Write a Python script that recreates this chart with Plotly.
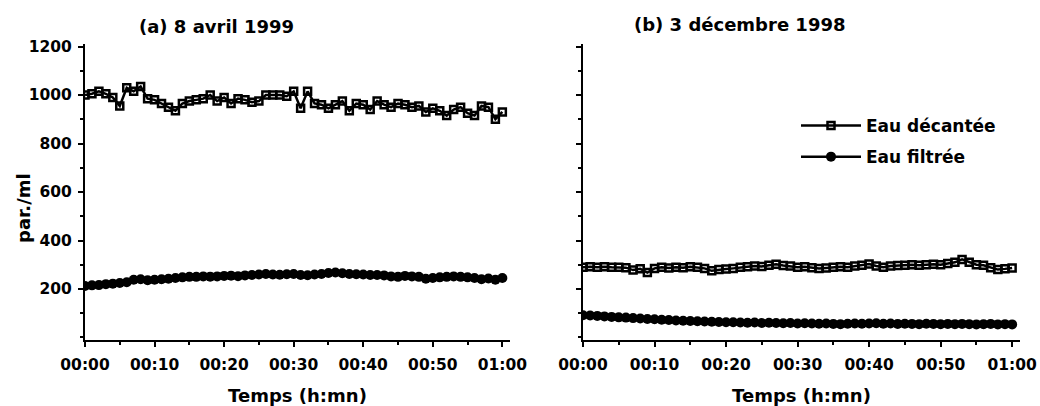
import plotly.graph_objects as go

# Time axis: one reading per minute over one hour
minutes = list(range(61))
time_tick_vals = [0, 10, 20, 30, 40, 50, 60]
time_tick_labels = ["00:00", "00:10", "00:20", "00:30", "00:40", "00:50", "01:00"]
count_tick_vals = [200, 400, 600, 800, 1000, 1200]

# (a) 8 avril 1999 - particle counts (par./ml)
avril_decantee = [
    1000, 1005, 1015, 1005, 990, 955, 1030, 1015, 1035, 985,
    980, 965, 950, 935, 965, 975, 980, 985, 1000, 975,
    990, 965, 985, 980, 970, 975, 1000, 1000, 1000, 995,
    1015, 945, 1015, 965, 960, 945, 960, 975, 935, 965,
    960, 940, 975, 960, 950, 965, 960, 950, 955, 930,
    945, 935, 915, 940, 950, 925, 915, 955, 950, 900,
    930,
]
avril_filtree = [
    212, 215, 216, 220, 222, 225, 228, 238, 240, 236,
    238, 240, 242, 245, 248, 250, 250, 252, 251, 252,
    254, 255, 253, 256, 258, 260, 262, 260, 259, 261,
    262, 258, 257, 260, 262, 266, 268, 265, 262, 261,
    260, 258, 258, 256, 252, 250, 254, 252, 250, 242,
    245, 248, 250, 252, 250, 248, 245, 240, 243, 238,
    245,
]

# (b) 3 décembre 1998
decembre_decantee = [
    290, 292, 290, 292, 290, 290, 288, 278, 283, 268,
    285, 290, 287, 290, 288, 292, 290, 285, 275, 280,
    282, 285, 290, 292, 295, 293, 298, 302, 297, 295,
    290, 292, 288, 285, 287, 290, 292, 290, 295, 298,
    303, 295, 290, 295, 297, 298, 300, 298, 300, 302,
    300, 305, 310, 322, 310, 300, 298, 288, 280, 283,
    287,
]
decembre_filtree = [
    92, 91, 89, 87, 85, 83, 82, 80, 78, 76,
    75, 73, 72, 70, 69, 68, 67, 66, 65, 64,
    63, 63, 62, 61, 62, 60, 61, 60, 59, 60,
    58, 59, 58, 57, 58, 56, 55, 57, 58, 57,
    58, 59, 57, 58, 56, 57, 56, 55, 57, 56,
    55, 56, 55, 56, 55, 54, 55, 56, 54, 55,
    54,
]

panel_titles = ["(a) 8 avril 1999", "(b) 3 décembre 1998"]
series_names = ["Eau décantée", "Eau filtrée"]
x_title = "Temps (h:mn)"
y_title = "par./ml"

FONT = "DejaVu Sans"
W, H = 1040, 406

fig = go.Figure()

decantee_style = dict(
    mode="lines+markers",
    line=dict(color="black", width=2.5),
    marker=dict(symbol="square-open", size=7, color="black", line=dict(width=2.5, color="black")),
)
# closely spaced filled dots overlap into a solid band
filtree_style = dict(
    mode="lines+markers",
    line=dict(color="black", width=2.5),
    marker=dict(symbol="circle", size=10, color="black"),
)

panels = [
    ("x", "y", avril_decantee, avril_filtree, False),
    ("x2", "y2", decembre_decantee, decembre_filtree, True),
]
for xa, ya, dec, fil, show in panels:
    fig.add_trace(go.Scatter(x=minutes, y=dec, name=series_names[0], xaxis=xa, yaxis=ya,
                             showlegend=show, legendgroup="dec", **decantee_style))
    fig.add_trace(go.Scatter(x=minutes, y=fil, name=series_names[1], xaxis=xa, yaxis=ya,
                             showlegend=show, legendgroup="fil", **filtree_style))

tick_font = dict(family=FONT, size=15.5, color="black", weight="bold")
label_font = dict(family=FONT, size=18, color="black", weight="bold")

def x_axis(domain, anchor):
    return dict(
        domain=domain, anchor=anchor, range=[0, 61.1], automargin=False,
        tickmode="array", tickvals=time_tick_vals, ticktext=time_tick_labels,
        ticks="outside", ticklen=5, tickwidth=2, tickcolor="black",
        minor=dict(dtick=5, tick0=0, ticks="outside", ticklen=3, tickwidth=1.5, tickcolor="black"),
        showline=True, linecolor="black", linewidth=2,
        showgrid=False, zeroline=False, tickfont=tick_font,
        ticklabelstandoff=4,
        title=dict(text=x_title, font=label_font, standoff=18),
    )

def y_axis(domain, anchor, labels):
    return dict(
        domain=domain, anchor=anchor, range=[-12, 1212], automargin=False,
        tickmode="array", tickvals=count_tick_vals,
        ticks="outside", ticklen=5, tickwidth=2, tickcolor="black",
        minor=dict(dtick=100, tick0=0, ticks="outside", ticklen=3, tickwidth=1.5, tickcolor="black"),
        showline=True, linecolor="black", linewidth=2,
        showgrid=False, zeroline=False, tickfont=tick_font,
        showticklabels=labels, ticklabelstandoff=3,
    )

y_dom = [1 - 340.4 / H, 1 - 43.6 / H]
fig.update_layout(
    width=W, height=H,
    margin=dict(l=0, r=0, t=0, b=0, autoexpand=False),
    paper_bgcolor="white", plot_bgcolor="white",
    font=dict(family=FONT, color="black", weight="bold"),
    xaxis=x_axis([85 / W, 510 / W], "y"),
    yaxis=y_axis(y_dom, "x", True),
    xaxis2=x_axis([583 / W, 1020 / W], "y2"),
    yaxis2=y_axis(y_dom, "x2", False),
    showlegend=True,
    legend=dict(
        x=796 / W, y=1 - 108 / H, xanchor="left", yanchor="top",
        font=dict(family=FONT, size=17, color="black", weight="bold"),
        bgcolor="rgba(0,0,0,0)", borderwidth=0,
        itemwidth=60, traceorder="grouped", tracegroupgap=6,
    ),
    annotations=[
        dict(text=panel_titles[0], x=216 / W, y=1 - 27 / H, xref="paper", yref="paper",
             showarrow=False, xanchor="center", yanchor="middle", font=label_font),
        dict(text=panel_titles[1], x=739 / W, y=1 - 25 / H, xref="paper", yref="paper",
             showarrow=False, xanchor="center", yanchor="middle", font=label_font),
        dict(text=y_title, x=23 / W, y=1 - 208 / H, xref="paper", yref="paper",
             showarrow=False, xanchor="center", yanchor="middle", textangle=-90, font=label_font),
    ],
)

fig.write_html("out.html")
